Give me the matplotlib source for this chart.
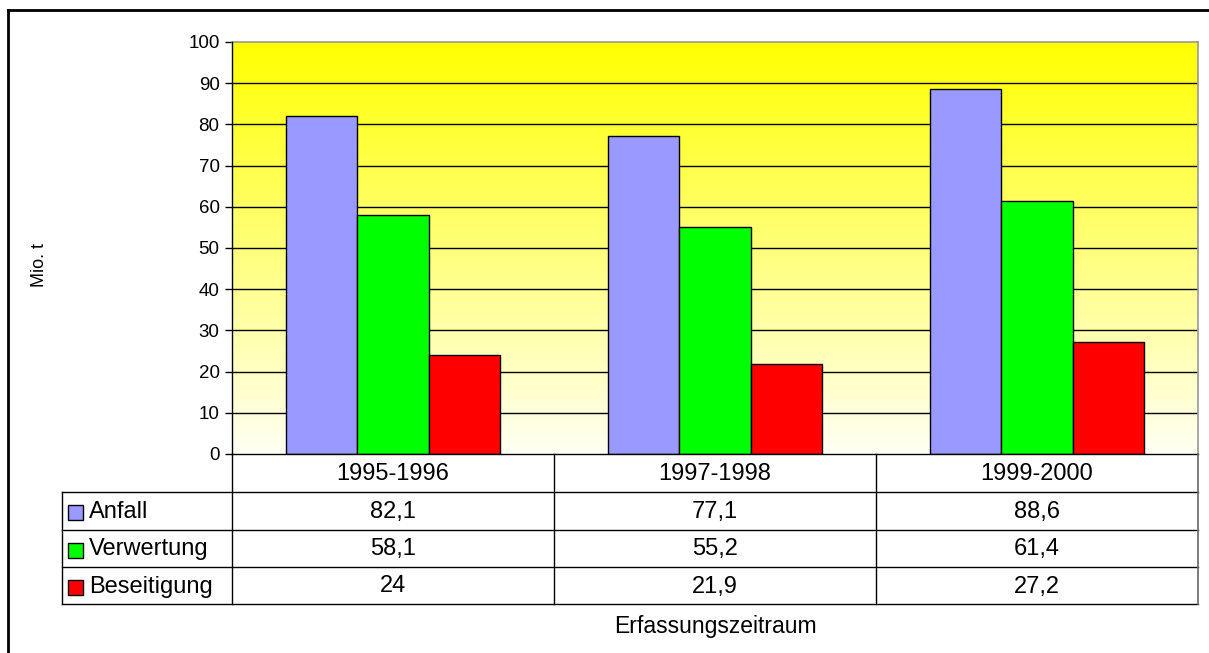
import numpy as np
import matplotlib
matplotlib.use('Agg')
import matplotlib.pyplot as plt
from matplotlib.patches import Rectangle
from matplotlib.colors import LinearSegmentedColormap

plt.rcParams['font.family'] = ['Liberation Sans', 'DejaVu Sans']

# data
periods    = ['1995-1996', '1997-1998', '1999-2000']
series     = ['Anfall', 'Verwertung', 'Beseitigung']
anfall     = [82.1, 77.1, 88.6]
verwertung = [58.1, 55.2, 61.4]
beseitigung = [24, 21.9, 27.2]
colors     = ['#9999FF', '#00FF00', '#FF0000']

W, H = 1209, 653
fig = plt.figure(figsize=(W / 100, H / 100), dpi=100)


def fx(px):
    return px / W


def fy(py):
    return 1 - py / H


# ==============================================================================
# chart area
# ==============================================================================

left, right, top, bottom = 232, 1198, 42, 454
ax = fig.add_axes([fx(left), fy(bottom), fx(right - left), (bottom - top) / H])
ax.set_xlim(-0.5, 2.5)
ax.set_ylim(0, 100)

# yellow gradient background
grad = np.linspace(0, 1, 256).reshape(-1, 1)
cmap = LinearSegmentedColormap.from_list('bg', ['#FFFFF4', '#FFFF00'])
ax.imshow(grad, extent=[-0.5, 2.5, 0, 100], origin='lower', aspect='auto',
          cmap=cmap, zorder=0)

for yv in range(10, 100, 10):
    ax.axhline(yv, color='#000000', lw=1.0, zorder=1)

values = [anfall, verwertung, beseitigung]
x = np.arange(len(periods))
bw = 0.222
for i, (vals, c) in enumerate(zip(values, colors)):
    ax.bar(x + (i - 1) * bw, vals, width=bw, color=c, edgecolor='#000000',
           linewidth=1.0, zorder=2)

ax.set_yticks(range(0, 101, 10))
ax.tick_params(axis='y', direction='out', length=5, width=1, labelsize=13.5,
               pad=4, colors='#000000')
ax.set_xticks([])
for s in ['top', 'right']:
    ax.spines[s].set_color('#999999')
    ax.spines[s].set_linewidth(1.2)
for s in ['left', 'bottom']:
    ax.spines[s].set_color('#000000')
    ax.spines[s].set_linewidth(1.0)
ax.spines['left'].set_zorder(3)

# ==============================================================================
# data table + labels (pixel overlay)
# ==============================================================================

ov = fig.add_axes([0, 0, 1, 1], facecolor='none')
ov.set_xlim(0, W)
ov.set_ylim(H, 0)
ov.axis('off')

col_x = [232, 554, 876, 1198]
row_y = [454, 492, 530, 567, 604]
lk = dict(color='#000000', lw=1.0)

for yy in row_y[1:]:
    ov.plot([62, 1198], [yy, yy], **lk)
ov.plot([62, 62], [row_y[1], row_y[-1]], **lk)
for xx in col_x[:-1]:
    ov.plot([xx, xx], [row_y[0], row_y[-1]], **lk)
ov.plot([1198, 1198], [row_y[0], row_y[-1]], color='#666666', lw=1.2)

for j, p in enumerate(periods):
    cx = (col_x[j] + col_x[j + 1]) / 2
    ov.text(cx, (row_y[0] + row_y[1]) / 2 + 1, p, ha='center', va='center',
            fontsize=17)

for i, (name, vals, c) in enumerate(zip(series, values, colors)):
    cy = (row_y[i + 1] + row_y[i + 2]) / 2 + 1
    ov.add_patch(Rectangle((68, cy - 7), 15, 15, facecolor=c,
                           edgecolor='#000000', lw=1.0))
    ov.text(89, cy, name, ha='left', va='center', fontsize=17)
    for j, v in enumerate(vals):
        cx = (col_x[j] + col_x[j + 1]) / 2
        ov.text(cx, cy, str(v).replace('.', ','), ha='center', va='center',
                fontsize=17)

ov.text(715, 627, 'Erfassungszeitraum', ha='center', va='center', fontsize=16.5)
ov.text(40, 265, 'Mio. t', ha='center', va='center', rotation=90, fontsize=13)

# outer border (only top/left visible)
ov.plot([8, 8], [10, H + 5], color='#000000', lw=2.0, clip_on=False)
ov.plot([8, W + 5], [10, 10], color='#000000', lw=2.0, clip_on=False)

fig.savefig('out.png', dpi=100)
